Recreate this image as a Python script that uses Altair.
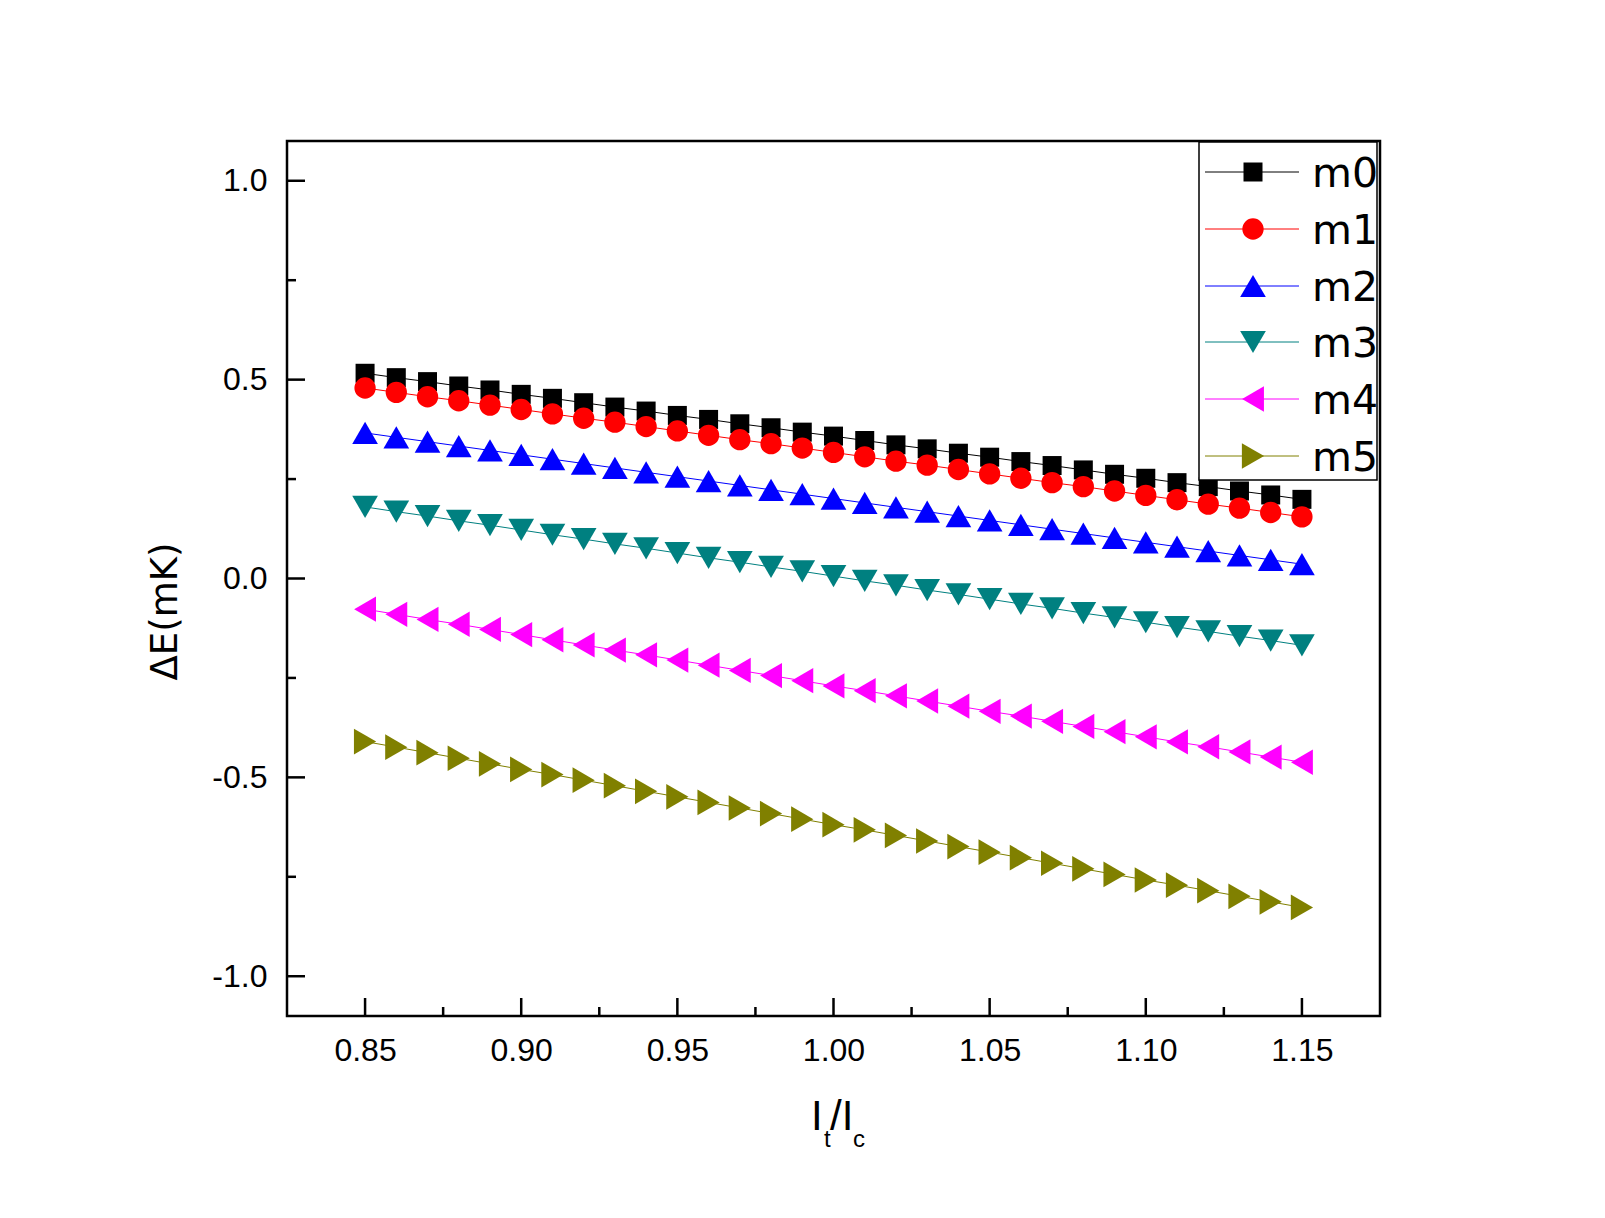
import altair as alt
import pandas as pd

# ---------------- data ----------------
x_vals = [0.85, 0.86, 0.87, 0.88, 0.89, 0.90, 0.91, 0.92, 0.93, 0.94, 0.95,
          0.96, 0.97, 0.98, 0.99, 1.00, 1.01, 1.02, 1.03, 1.04, 1.05, 1.06,
          1.07, 1.08, 1.09, 1.10, 1.11, 1.12, 1.13, 1.14, 1.15]

m0 = [0.516, 0.505, 0.495, 0.484, 0.474, 0.463, 0.453, 0.442, 0.431, 0.421, 0.410,
      0.400, 0.389, 0.379, 0.368, 0.358, 0.347, 0.336, 0.326, 0.315, 0.305, 0.294,
      0.284, 0.273, 0.262, 0.252, 0.241, 0.231, 0.220, 0.210, 0.199]
m1 = [0.479, 0.468, 0.457, 0.447, 0.436, 0.425, 0.414, 0.403, 0.393, 0.382, 0.371,
      0.360, 0.349, 0.339, 0.328, 0.317, 0.306, 0.295, 0.285, 0.274, 0.263, 0.252,
      0.241, 0.231, 0.220, 0.209, 0.198, 0.187, 0.177, 0.166, 0.155]
m2 = [0.366, 0.355, 0.344, 0.333, 0.322, 0.311, 0.300, 0.289, 0.278, 0.267, 0.256,
      0.245, 0.234, 0.223, 0.212, 0.201, 0.190, 0.179, 0.168, 0.157, 0.146, 0.135,
      0.124, 0.113, 0.102, 0.091, 0.080, 0.069, 0.058, 0.047, 0.036]
m3 = [0.180, 0.168, 0.157, 0.145, 0.134, 0.122, 0.110, 0.099, 0.087, 0.076, 0.064,
      0.052, 0.041, 0.029, 0.018, 0.006, -0.006, -0.017, -0.029, -0.040, -0.052, -0.064,
      -0.075, -0.087, -0.098, -0.110, -0.122, -0.133, -0.145, -0.156, -0.168]
m4 = [-0.077, -0.090, -0.103, -0.115, -0.128, -0.141, -0.154, -0.167, -0.180, -0.192, -0.205,
      -0.218, -0.231, -0.244, -0.257, -0.270, -0.282, -0.295, -0.308, -0.321, -0.334, -0.346,
      -0.359, -0.372, -0.385, -0.398, -0.411, -0.423, -0.436, -0.449, -0.462]
m5 = [-0.410, -0.424, -0.438, -0.452, -0.466, -0.480, -0.493, -0.507, -0.521, -0.535, -0.549,
      -0.563, -0.577, -0.591, -0.605, -0.619, -0.632, -0.646, -0.660, -0.674, -0.688, -0.702,
      -0.716, -0.730, -0.744, -0.758, -0.771, -0.785, -0.799, -0.813, -0.827]

series_names = ["m0", "m1", "m2", "m3", "m4", "m5"]
series_values = [m0, m1, m2, m3, m4, m5]
series_colors = ["#000000", "#FF0000", "#0000FF", "#008080", "#FF00FF", "#808000"]
series_shapes = ["square", "circle", "triangle-up", "triangle-down", "triangle-left", "triangle-right"]
series_sizes = [361, 455, 660, 660, 640, 660]

x_major = [0.85, 0.90, 0.95, 1.00, 1.05, 1.10, 1.15]
x_minor = [0.875, 0.925, 0.975, 1.025, 1.075, 1.125]
y_major = [-1.0, -0.5, 0.0, 0.5, 1.0]
y_minor = [-0.75, -0.25, 0.25, 0.75]

# ---------------- layout ----------------
W, H = 1093, 875
X_DOM = [0.825, 1.175]
Y_DOM = [-1.1, 1.1]
xs = alt.Scale(domain=X_DOM, nice=False, zero=False)
ys = alt.Scale(domain=Y_DOM, nice=False, zero=False)

x_axis = alt.Axis(values=x_major, format=".2f", ticks=False, domain=False, grid=False,
                  labelFont="Liberation Sans", labelFontSize=32, labelColor="black",
                  labelPadding=19, title=None)
y_axis = alt.Axis(values=y_major, ticks=False, domain=False, grid=False,
                  labelExpr="replace(format(datum.value, '.1f'), '\u2212', '-')",
                  labelFont="Liberation Sans", labelFontSize=32, labelColor="black",
                  labelPadding=20,
                  title="\u0394E(mK)", titleFont="DejaVu Sans", titleFontSize=37,
                  titleFontWeight="normal", titleColor="black",
                  titleAngle=270, titleX=-122, titleY=470,
                  titleAlign="center", titleBaseline="middle")

def XE(field):
    return alt.X(field, scale=xs, axis=x_axis)

def YE(field):
    return alt.Y(field, scale=ys, axis=y_axis)

layers = []
for i, (name, vals) in enumerate(zip(series_names, series_values)):
    df = pd.DataFrame({"x": x_vals, "y": vals, "series": name})
    line = alt.Chart(df).mark_line(color=series_colors[i], strokeWidth=1).encode(
        x=XE("x:Q"), y=YE("y:Q"))
    pts = alt.Chart(df).mark_point(filled=True, shape=series_shapes[i], size=series_sizes[i],
                                   color=series_colors[i], opacity=1, strokeWidth=0).encode(
        x=XE("x:Q"), y=YE("y:Q"))
    layers += [line, pts]

# inward ticks
tick_style = dict(color="black", strokeWidth=2.5)
layers.append(alt.Chart(pd.DataFrame({"x": x_major})).mark_rule(**tick_style).encode(
    x=XE("x:Q"), y=alt.value(H), y2=alt.value(H - 18)))
layers.append(alt.Chart(pd.DataFrame({"x": x_minor})).mark_rule(**tick_style).encode(
    x=XE("x:Q"), y=alt.value(H), y2=alt.value(H - 9)))
layers.append(alt.Chart(pd.DataFrame({"y": y_major})).mark_rule(**tick_style).encode(
    y=YE("y:Q"), x=alt.value(0), x2=alt.value(18)))
layers.append(alt.Chart(pd.DataFrame({"y": y_minor})).mark_rule(**tick_style).encode(
    y=YE("y:Q"), x=alt.value(0), x2=alt.value(9)))

# x-axis title I_t / I_c
one = pd.DataFrame({"k": [0]})
def txt(t, x, y, size, font="Liberation Sans"):
    return alt.Chart(one).mark_text(text=t, font=font, fontSize=size, color="black",
                                    align="left", baseline="alphabetic").encode(
        x=alt.value(x), y=alt.value(y))
layers += [txt("I", 524, 989, 42), txt("t", 537, 1006, 24),
           txt("/I", 543, 989, 42), txt("c", 566, 1006, 24)]

# legend box
LX0, LX1, LY0, LY1 = 912, 1090, 1, 339
layers.append(alt.Chart(one).mark_rect(fill="white", stroke="black", strokeWidth=1.5).encode(
    x=alt.value(LX0), x2=alt.value(LX1), y=alt.value(LY0), y2=alt.value(LY1)))
row_y = [31, 88, 145, 201, 258, 315]
for i, name in enumerate(series_names):
    ry = row_y[i]
    layers.append(alt.Chart(one).mark_rule(color=series_colors[i], strokeWidth=1).encode(
        x=alt.value(918), x2=alt.value(1012), y=alt.value(ry)))
    layers.append(alt.Chart(one).mark_point(filled=True, shape=series_shapes[i], size=series_sizes[i],
                                            color=series_colors[i], opacity=1, strokeWidth=0).encode(
        x=alt.value(966), y=alt.value(ry)))
    layers.append(txt(name, 1025, ry + 15, 41, font="DejaVu Sans"))

chart = alt.layer(*layers).properties(
    width=W, height=H,
    autosize=alt.AutoSizeParams(type="none"),
    padding={"left": 279, "top": 133, "right": 217, "bottom": 194},
    background="white",
).configure_view(stroke="black", strokeWidth=2.5)

chart.save("out.html", embed_options={"renderer": "svg", "actions": False})
